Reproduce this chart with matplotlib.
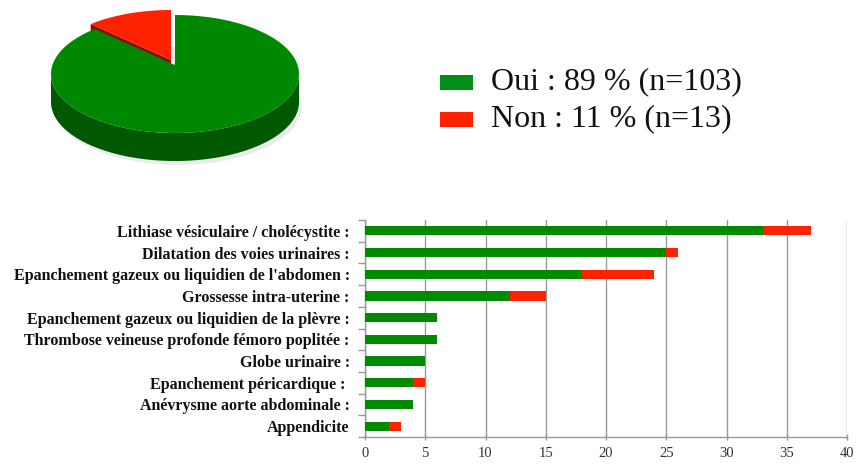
import numpy as np
import matplotlib
matplotlib.use("Agg")
import matplotlib.pyplot as plt
from matplotlib.patches import Polygon, Rectangle

# pie data
PIE_LABELS = ["Oui : 89 % (n=103)", "Non : 11 % (n=13)"]
PIE_COUNTS = [103, 13]

# bar data (top to bottom)
CATEGORIES = [
    "Lithiase vésiculaire / cholécystite :",
    "Dilatation des voies urinaires :",
    "Epanchement gazeux ou liquidien de l'abdomen :",
    "Grossesse intra-uterine :",
    "Epanchement gazeux ou liquidien de la plèvre :",
    "Thrombose veineuse profonde fémoro poplitée :",
    "Globe urinaire :",
    "Epanchement péricardique : ",
    "Anévrysme aorte abdominale :",
    "Appendicite",
]
OUI = [33, 25, 18, 12, 6, 6, 5, 4, 4, 2]
NON = [4, 1, 6, 3, 0, 0, 0, 1, 0, 1]
X_TICKS = [0, 5, 10, 15, 20, 25, 30, 35, 40]

GREEN = "#008a00"
RED = "#ff2200"
SERIF = "Liberation Serif"

W, H = 858, 465
fig = plt.figure(figsize=(W / 100, H / 100), dpi=100)

# ---- 3D-looking pie drawn in pixel coords ----
ax_p = fig.add_axes([0, 0, 1, 1])
ax_p.set_xlim(0, W)
ax_p.set_ylim(H, 0)
ax_p.axis("off")

cx, cy, rx, ry, depth = 175, 74, 124, 59, 28
apex = (175, 65)


def arc(t0, t1, dx=0, dy=0, n=120):
    t = np.radians(np.linspace(t0, t1, n))
    return np.column_stack([cx + dx + rx * np.cos(t), cy + dy - ry * np.sin(t)])


total = sum(PIE_COUNTS)
red_span = 360 * PIE_COUNTS[1] / total
start = 90
red_end = start + red_span

# soft shadow
shadow = arc(0, 360, dx=3, dy=depth + 4)
ax_p.add_patch(Polygon(shadow, closed=True, fc="#000000", alpha=0.08, ec="none", zorder=0.5))

# red slice, exploded up-left
ox, oy = -4, -5
ra = (apex[0] + ox, apex[1] + oy)
red_arc = arc(start, red_end, ox, oy)
edge = red_arc[-1]
face = [ra, tuple(edge), (edge[0], edge[1] + depth), (ra[0], ra[1] + depth)]
ax_p.add_patch(Polygon(face, closed=True, fc="#8a0e00", ec="none", zorder=1))
ax_p.add_patch(Polygon(np.vstack([ra, red_arc]), closed=True, fc=RED, ec="none", zorder=2))

# green slice side (front half only) and top
top = arc(180, 360)
bot = arc(360, 180, dy=depth)
ax_p.add_patch(Polygon(np.vstack([top, bot]), closed=True, fc="#005800", ec="none", zorder=3))
green_arc = arc(red_end, start + 360)
ax_p.add_patch(Polygon(np.vstack([apex, green_arc]), closed=True, fc="#008800", ec="none", zorder=4))

# legend
colors = ["#009018", RED]
for i, (lab, col) in enumerate(zip(PIE_LABELS, colors)):
    yy = 82 + i * 37
    ax_p.add_patch(Rectangle((440, yy - 7), 33, 15, fc=col, ec="none"))
    ax_p.text(491, yy, lab, fontsize=23, family=SERIF, va="center", ha="left", color="#111111")

# ---- stacked horizontal bars ----
ax = fig.add_axes([365 / W, 1 - 437 / H, (847 - 365) / W, (437 - 220) / H])
y = np.arange(len(CATEGORIES))
ax.barh(y, OUI, height=0.42, color=GREEN, zorder=3)
ax.barh(y, NON, left=OUI, height=0.42, color=RED, zorder=3)
ax.set_ylim(len(CATEGORIES) - 0.5, -0.5)
ax.set_xlim(0, 40)
ax.set_xticks(X_TICKS)
ax.set_xticklabels([str(t) for t in X_TICKS], family=SERIF, fontsize=10.5, color="#333333")
ax.set_yticks(y)
ax.set_yticklabels(CATEGORIES, family=SERIF, fontsize=11.5, fontweight="bold", color="#111111")
ax.set_yticks(np.arange(-0.5, len(CATEGORIES)), minor=True)
ax.tick_params(axis="y", which="major", length=0, pad=11)
ax.tick_params(axis="y", which="minor", length=5, color="#999999", width=1)
ax.tick_params(axis="x", length=5, color="#999999", width=1, pad=5, direction="inout")
ax.grid(axis="x", color="#999999", linewidth=1, zorder=0)
for s in ["top", "right"]:
    ax.spines[s].set_visible(False)
for s in ["left", "bottom"]:
    ax.spines[s].set_color("#999999")
    ax.spines[s].set_linewidth(1)

fig.savefig("out.png", dpi=100)
